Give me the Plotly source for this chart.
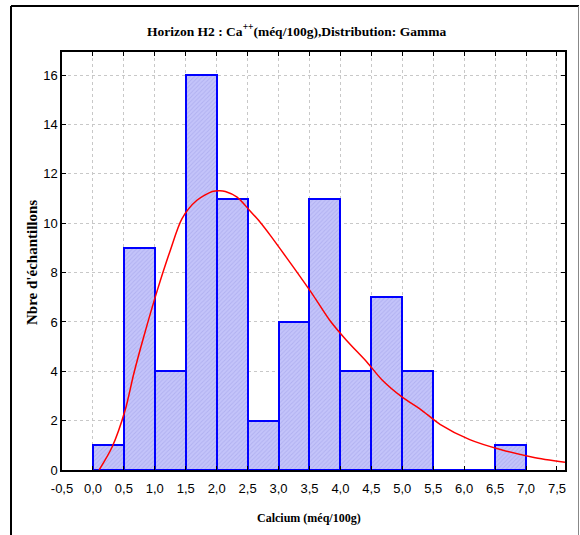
import plotly.graph_objects as go

# ---- data ----
bin_starts = [0.0, 0.5, 1.0, 1.5, 2.0, 2.5, 3.0, 3.5, 4.0, 4.5, 5.0, 5.5, 6.0, 6.5]
bin_width = 0.5
counts = [1, 9, 4, 16, 11, 2, 6, 11, 4, 7, 4, 0, 0, 1]

curve_x = [0.10, 0.31, 0.52, 0.66, 0.82, 1.04, 1.25, 1.44, 1.68, 1.93, 2.05, 2.14, 2.33,
           2.54, 2.70, 2.87, 3.03, 3.24, 3.56, 3.83, 4.10, 4.43, 4.67, 5.0, 5.3, 5.61,
           6.09, 6.60, 7.11, 7.63]
curve_y = [0.0, 0.93, 2.42, 3.9, 5.39, 7.28, 8.9, 10.19, 10.93, 11.29, 11.32, 11.29, 11.06,
           10.5, 10.05, 9.5, 8.95, 8.22, 7.08, 6.06, 5.25, 4.37, 3.66, 2.95, 2.45, 1.85,
           1.23, 0.82, 0.52, 0.31]

x_ticks = [-0.5, 0.0, 0.5, 1.0, 1.5, 2.0, 2.5, 3.0, 3.5, 4.0, 4.5, 5.0, 5.5, 6.0, 6.5, 7.0, 7.5]
x_ticktext = [f"{v:.1f}".replace(".", ",") for v in x_ticks]
y_ticks = [0, 2, 4, 6, 8, 10, 12, 14, 16]

title_text = "Horizon H2 : Ca<sup>++</sup>(méq/100g),Distribution: Gamma"
x_title = "Calcium (méq/100g)"
y_title = "Nbre d'échantillons"

bar_centers = [s + bin_width / 2 for s in bin_starts]

fig = go.Figure()
fig.add_trace(go.Bar(
    x=bar_centers, y=counts, width=bin_width,
    marker=dict(color="#c4c4fa", line=dict(color="#0000ff", width=2),
                pattern=dict(shape="/", fgcolor="#9c9ce6", size=3, solidity=0.3)),
    showlegend=False,
))
fig.add_trace(go.Scatter(
    x=curve_x, y=curve_y, mode="lines",
    line=dict(color="#ff0000", width=1.5, shape="spline", smoothing=0.8),
    showlegend=False,
))

W, H = 580, 535
L, R, T, B = 62, 15, 52, 65
pw, ph = W - L - R, H - T - B

def px2paper_x(px):
    return (px - L) / pw

def py2paper_y(py):
    return (H - B - py) / ph

shapes = [
    dict(type="line", xref="paper", yref="paper", x0=px2paper_x(11), x1=px2paper_x(11),
         y0=py2paper_y(6), y1=py2paper_y(560), line=dict(color="black", width=2)),
    dict(type="line", xref="paper", yref="paper", x0=px2paper_x(11), x1=px2paper_x(579),
         y0=py2paper_y(6), y1=py2paper_y(6), line=dict(color="black", width=2)),
    dict(type="line", xref="paper", yref="paper", x0=px2paper_x(578.5), x1=px2paper_x(578.5),
         y0=py2paper_y(6), y1=py2paper_y(560), line=dict(color="#888888", width=1)),
]

axis_font = dict(family="Liberation Sans, Arial", size=13, color="black")

fig.update_layout(
    width=W, height=H,
    margin=dict(l=L, r=R, t=T, b=B, autoexpand=False),
    paper_bgcolor="white", plot_bgcolor="white",
    bargap=0,
    shapes=shapes,
    annotations=[
        dict(text=f"<b>{title_text}</b>", xref="paper", yref="paper",
             x=px2paper_x(296), y=py2paper_y(31), showarrow=False,
             font=dict(family="Liberation Serif, Times New Roman", size=13.5, color="black"),
             xanchor="center", yanchor="middle"),
        dict(text=f"<b>{x_title}</b>", xref="paper", yref="paper",
             x=px2paper_x(309), y=py2paper_y(518), showarrow=False,
             font=dict(family="Liberation Serif, Times New Roman", size=12, color="black"),
             xanchor="center", yanchor="middle"),
        dict(text=f"<b>{y_title}</b>", xref="paper", yref="paper",
             x=px2paper_x(32), y=py2paper_y(263), showarrow=False, textangle=-90,
             font=dict(family="Liberation Serif, Times New Roman", size=15, color="black"),
             xanchor="center", yanchor="middle"),
    ],
    xaxis=dict(range=[-0.5, 7.63], tickvals=x_ticks, ticktext=x_ticktext, automargin=False,
               showgrid=True, gridcolor="#c8c8c8", griddash="dot", gridwidth=1,
               zeroline=False, showline=True, linecolor="black", linewidth=1.5,
               mirror="ticks", ticks="inside", ticklen=4, tickcolor="black",
               ticklabelstandoff=6, tickfont=axis_font),
    yaxis=dict(range=[0, 16.94], tickvals=y_ticks, automargin=False,
               showgrid=True, gridcolor="#c8c8c8", griddash="dot", gridwidth=1,
               zeroline=False, showline=True, linecolor="black", linewidth=1.5,
               mirror="ticks", ticks="inside", ticklen=4, tickcolor="black",
               tickfont=axis_font),
)

# remove the browser's default 8px body margin so the figure starts at (0, 0)
fig.write_html("out.html", config={"displayModeBar": False},
               post_script="document.body.style.margin='0';")
